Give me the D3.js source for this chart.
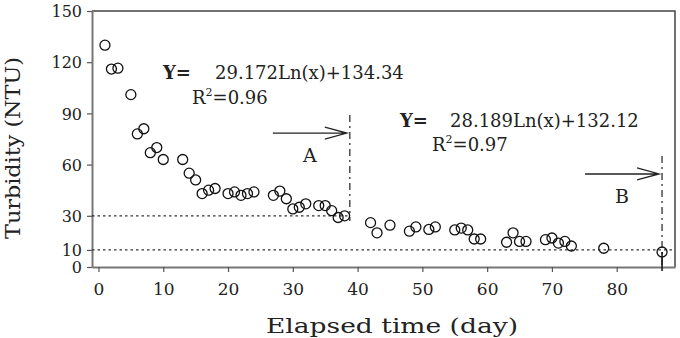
<!DOCTYPE html>
<html>
<head>
<meta charset="utf-8">
<script src="https://cdn.jsdelivr.net/npm/d3@7"></script>
<style>
  body{margin:0;background:#fff;}
  text{font-family:"DejaVu Serif",serif;fill:#222;}
</style>
</head>
<body>
<div id="chart"></div>
<script>
// elapsed day / turbidity (NTU)
var days = [1,2,3,5,6,7,8,9,10,13,14,15,16,17,18,20,21,22,23,24,27,28,29,30,31,32,34,35,36,37,38,
            42,43,45,48,49,51,52,55,56,57,58,59,63,64,65,66,69,70,71,72,73,78,87];
var turb = [130,116,116.5,101,78,81,67,70,63,63,55,51,43,45,46,43,44,42,43,44,42,44.5,40,34,35,37,36,36,33,29,30,
            26,20,24.5,21,23.5,22,23.5,21.7,22.8,21.7,16.4,16.4,14.5,20,15,15,16,17,14,15,12.3,11,8.8];
var xTicks = [0,10,20,30,40,50,60,70,80];
var yTicks = [0,10,30,60,90,120,150];
var limitLines = [30,10];         // horizontal dotted levels
var limitEnds = [38.8,89];        // where each dotted line stops
var markers = ["A","B"];
var markerDay = [38.8,87];
var markerTop = [89,65];
var markerArrowY = [78.5,54.5];
var eqY = ["29.172Ln(x)+134.34","28.189Ln(x)+132.12"];
var eqR2 = ["0.96","0.97"];

var W=680,H=338;
var m={left:92,right:5,top:11,bottom:71};

var svg = d3.select("#chart").append("svg")
  .attr("width",W).attr("height",H);

var x = d3.scaleLinear().domain([-1,89]).range([m.left,W-m.right]);
var y = d3.scaleLinear().domain([0,150]).range([H-m.bottom,m.top]);

// frame top + right
svg.append("path")
  .attr("d","M"+x(-1)+","+y(150)+"H"+x(89)+"V"+y(0))
  .attr("fill","none").attr("stroke","#444").attr("stroke-width",1.5);

// axes
var xAxis = svg.append("g")
  .attr("transform","translate(0,"+y(0)+")")
  .call(d3.axisBottom(x).tickValues(xTicks).tickSize(5).tickPadding(11).tickSizeOuter(0));
var yAxis = svg.append("g")
  .attr("transform","translate("+x(-1)+",0)")
  .call(d3.axisLeft(y).tickValues(yTicks).tickSize(5).tickPadding(5).tickSizeOuter(0));
[xAxis,yAxis].forEach(function(a){
  a.select(".domain").attr("stroke","#777").attr("stroke-width",2);
  a.selectAll(".tick line").attr("stroke","#555").attr("stroke-width",1.2);
  a.selectAll("text").attr("font-family","DejaVu Serif").attr("font-size",17).attr("fill","#333");
});
yAxis.selectAll(".tick text").attr("dy","0.35em").attr("font-size",16);

// dotted levels
svg.selectAll(".lvl").data(limitLines).enter().append("line")
  .attr("class","lvl")
  .attr("x1",x(-1)).attr("x2",function(d,i){return x(limitEnds[i]);})
  .attr("y1",function(d){return y(d);}).attr("y2",function(d){return y(d);})
  .attr("stroke","#333").attr("stroke-width",1.3).attr("stroke-dasharray","2.5,3");

// dash-dot verticals
svg.selectAll(".vl").data(markerDay).enter().append("line")
  .attr("class","vl")
  .attr("x1",function(d){return x(d);}).attr("x2",function(d){return x(d);})
  .attr("y1",function(d,i){return y(markerTop[i]);})
  .attr("y2",function(d,i){return i==0?y(27):y(0);})
  .attr("stroke","#333").attr("stroke-width",1.3).attr("stroke-dasharray","7,4,2,4");

// arrows
svg.selectAll(".arr").data(markers).enter().append("path")
  .attr("class","arr")
  .attr("d",function(d,i){
    var xe=x(markerDay[i])-3, xs=xe-74, yy=y(markerArrowY[i]);
    return "M"+xs+","+yy+"H"+xe+"M"+(xe-22)+","+(yy-6)+"L"+xe+","+yy+"L"+(xe-22)+","+(yy+6);
  })
  .attr("fill","none").attr("stroke","#222").attr("stroke-width",1.3);
svg.selectAll(".mlab").data(markers).enter().append("text")
  .attr("x",function(d,i){return x(markerDay[i])-40;})
  .attr("y",function(d,i){return y(markerArrowY[i])+29;})
  .attr("text-anchor","middle").attr("font-size",19).text(function(d){return d;});

// points
svg.selectAll(".pt").data(days).enter().append("circle")
  .attr("class","pt")
  .attr("cx",function(d){return x(d);})
  .attr("cy",function(d,i){return y(turb[i]);})
  .attr("r",5).attr("fill","none").attr("stroke","#111").attr("stroke-width",1.3);

// solid stub below last point
svg.append("line")
  .attr("x1",x(87)).attr("x2",x(87)).attr("y1",y(8.8)).attr("y2",y(0)+4)
  .attr("stroke","#111").attr("stroke-width",1.5);

// equations
var eqPos=[{yx:163,nx:215,yb:79,rx:192,rb:104},{yx:400,nx:450,yb:127,rx:432,rb:151}];
eqPos.forEach(function(p,i){
  svg.append("text").attr("x",p.yx).attr("y",p.yb).attr("font-size",18).attr("font-weight","bold").text("Y=");
  svg.append("text").attr("x",p.nx).attr("y",p.yb).attr("font-size",18).text(eqY[i]);
  var t=svg.append("text").attr("x",p.rx).attr("y",p.rb).attr("font-size",18);
  t.append("tspan").text("R");
  t.append("tspan").attr("font-size",11).attr("dy",-8).text("2");
  t.append("tspan").attr("dy",8).text("="+eqR2[i]);
});

// axis titles
svg.append("text").attr("x",392).attr("y",333).attr("text-anchor","middle")
  .attr("font-size",21).attr("textLength",252).attr("lengthAdjust","spacingAndGlyphs")
  .text("Elapsed time (day)");
svg.append("text").attr("transform","translate(20,"+148+") rotate(-90)")
  .attr("text-anchor","middle").attr("font-size",20).attr("textLength",182).attr("lengthAdjust","spacingAndGlyphs")
  .text("Turbidity (NTU)");
</script>
</body>
</html>
